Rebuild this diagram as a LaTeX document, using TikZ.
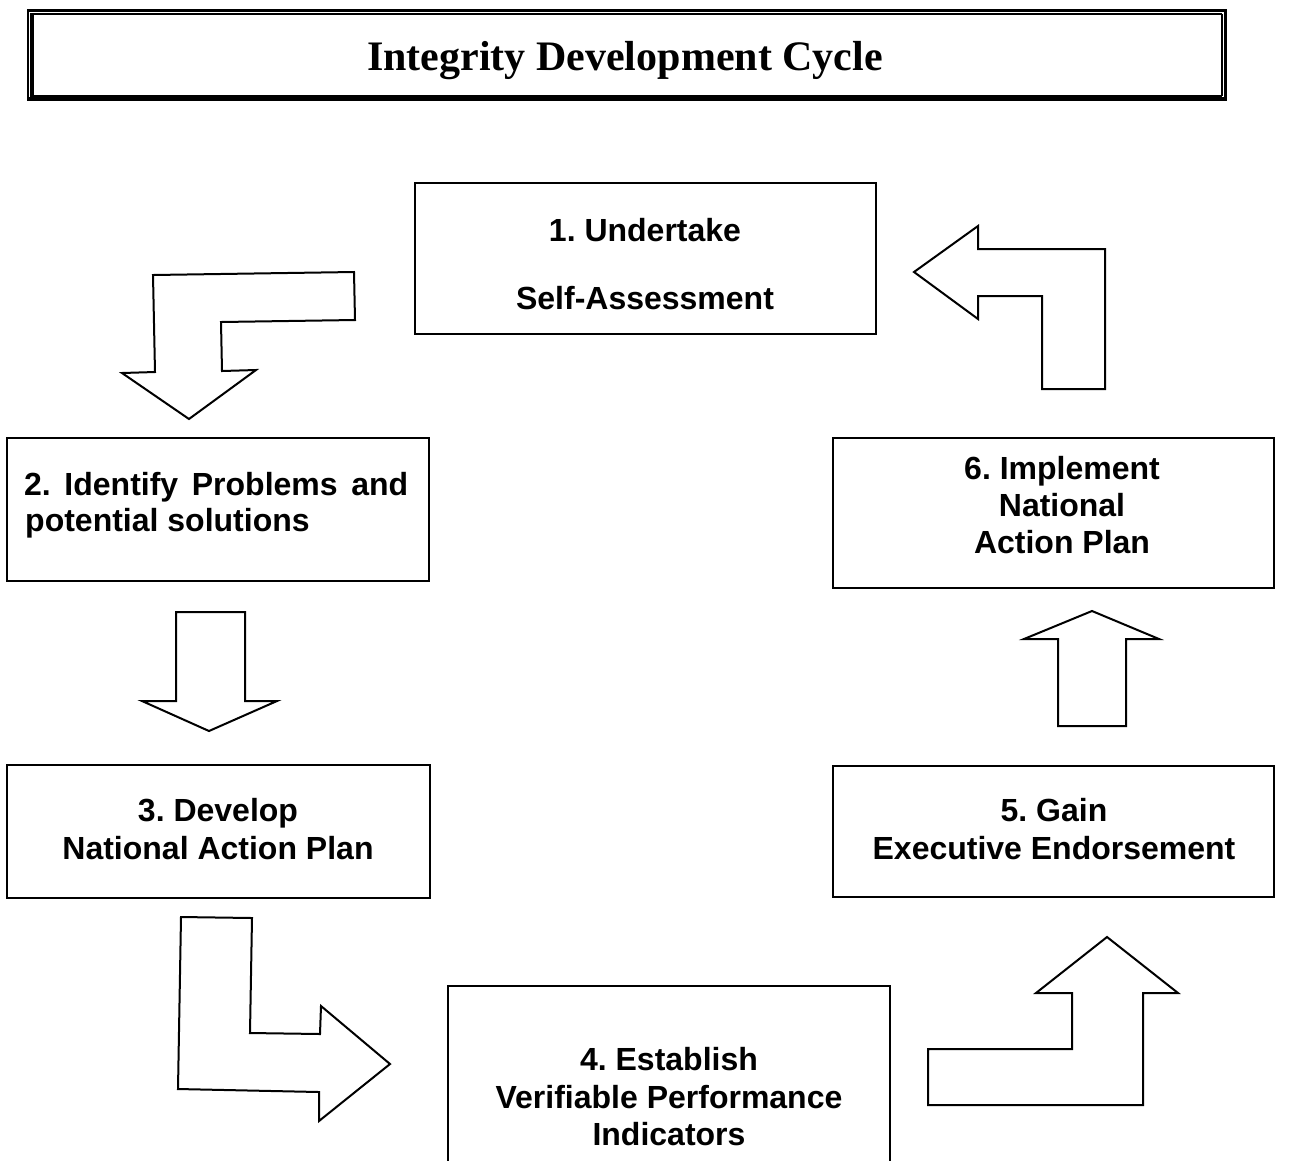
\documentclass[tikz,border=0pt]{standalone}
\usepackage{fontspec}
\setmainfont{Liberation Serif}
\newfontfamily\arial{Liberation Sans}
\frenchspacing
\begin{document}
\begin{tikzpicture}[x=1pt,y=-1pt,
  stage/.style={draw,line width=2pt},
  blockarrow/.style={draw,line width=2pt,line join=miter,fill=white},
  lbl/.style={anchor=base,inner sep=0pt,font=\arial\bfseries\fontsize{32}{37.5}\selectfont},
  titletext/.style={anchor=base,inner sep=0pt,font=\bfseries\fontsize{42}{48}\selectfont}]
\useasboundingbox (0,0) rectangle (1297,1160);
\clip (0,0) rectangle (1297,1160);

% title frame: thick and thin rules
\draw[line width=3.5pt] (27,10.5) -- (1227,10.5);
\draw[line width=3.5pt] (27,99) -- (1227,99);
\draw[line width=3.5pt] (32,13) -- (32,97);
\draw[line width=3.5pt] (1225.5,9) -- (1225.5,101);
\draw[line width=1.3pt] (32,14) -- (1222,14);
\draw[line width=1.3pt] (32,96) -- (1222,96);
\draw[line width=1.3pt] (28,9) -- (28,101);
\draw[line width=1.3pt] (1222,14) -- (1222,96);
\node[titletext] (title) at (625,70) {Integrity Development Cycle};

% stage boxes
\draw[stage] (415,183) rectangle (876,334) coordinate (b1);
\draw[stage] (7,438) rectangle (429,581) coordinate (b2);
\draw[stage] (7,765) rectangle (430,898) coordinate (b3);
\draw[stage] (448,986) rectangle (890,1170) coordinate (b4);
\draw[stage] (833,766) rectangle (1274,897) coordinate (b5);
\draw[stage] (833,438) rectangle (1274,588) coordinate (b6);

% stage texts
\node[lbl] (t1a) at (645,241.5) {1. Undertake};
\node[lbl] (t1b) at (645,309.5) {Self-Assessment};
\node[lbl,anchor=base west] (t2a) at (24,495.5) {\makebox[384pt][s]{2. Identify Problems and}};
\node[lbl,anchor=base west] (t2b) at (25,531.5) {potential solutions};
\node[lbl] (t3a) at (218,821.5) {3. Develop};
\node[lbl] (t3b) at (218,859.5) {National Action Plan};
\node[lbl] (t4a) at (669,1070.5) {4. Establish};
\node[lbl] (t4b) at (669,1108.5) {Verifiable Performance};
\node[lbl] (t4c) at (669,1145.5) {Indicators};
\node[lbl] (t5a) at (1054,821.5) {5. Gain};
\node[lbl] (t5b) at (1054,859.5) {Executive Endorsement};
\node[lbl] (t6a) at (1062,479.5) {6. Implement};
\node[lbl] (t6b) at (1062,516.5) {National};
\node[lbl] (t6c) at (1062,553.5) {Action Plan};

% block arrows between the stages
\draw[blockarrow] (153,275) -- (354,272) -- (355,320) -- (221,322) -- (222,371)
  -- (256,370) -- (189,419) -- (122,373) -- (155,372) -- cycle;
\draw[blockarrow] (176,612) -- (245,612) -- (245,701) -- (277,701) -- (209,731)
  -- (142,701) -- (176,701) -- cycle;
\draw[blockarrow] (181,917) -- (252,918) -- (250,1033) -- (320,1034) -- (321,1006)
  -- (390,1064) -- (319,1121) -- (319,1092) -- (178,1089) -- cycle;
\draw[blockarrow] (928,1105) -- (1143,1105) -- (1143,993) -- (1178,993) -- (1107,937)
  -- (1036,993) -- (1072,993) -- (1072,1049) -- (928,1049) -- cycle;
\draw[blockarrow] (1058,726) -- (1126,726) -- (1126,639) -- (1159,639) -- (1092,611)
  -- (1024,639) -- (1058,639) -- cycle;
\draw[blockarrow] (914,272) -- (978,226) -- (978,249) -- (1105,249) -- (1105,389)
  -- (1042,389) -- (1042,296) -- (978,296) -- (978,319) -- cycle;
\end{tikzpicture}
\end{document}
